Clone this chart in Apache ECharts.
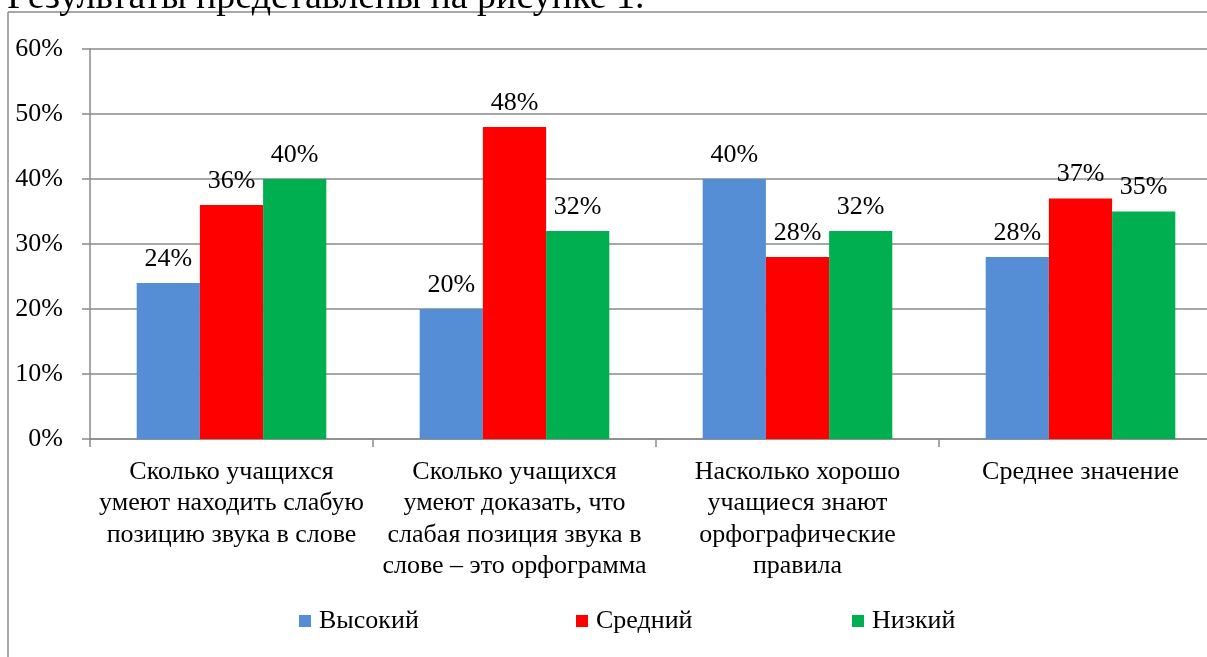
<!DOCTYPE html>
<html>
<head>
<meta charset="utf-8">
<script src="https://cdn.jsdelivr.net/npm/echarts@6/dist/echarts.min.js"></script>
<style>
html,body{margin:0;padding:0;background:#fff;overflow:hidden;}
#chart{width:1240px;height:657px;}
</style>
</head>
<body>
<div id="chart"></div>
<script>
const categories = [
  "Сколько учащихся\nумеют находить слабую\nпозицию звука в слове",
  "Сколько учащихся\nумеют доказать, что\nслабая позиция звука в\nслове – это орфограмма",
  "Насколько хорошо\nучащиеся знают\nорфографические\nправила",
  "Среднее значение"
];
const seriesNames = ["Высокий", "Средний", "Низкий"];
const high = [24, 20, 40, 28];
const mid = [36, 48, 28, 37];
const low = [40, 32, 32, 35];
const yTicks = { min: 0, max: 60, interval: 10 };
const colors = ["#558ED5", "#FF0000", "#00B050"];
const font = "'Liberation Serif', 'Times New Roman', serif";

const chart = echarts.init(document.getElementById('chart'));
const mkSeries = (name, data, color) => ({
  name: name,
  type: 'bar',
  data: data,
  barGap: '0%',
  barCategoryGap: '33%',
  itemStyle: { color: color },
  label: {
    show: true,
    position: 'top',
    distance: 11,
    formatter: '{c}%',
    fontFamily: font,
    fontSize: 26,
    color: '#000'
  }
});
const legendLefts = [299, 576, 852];
const mkLegend = (name, left) => ({
  data: [name],
  left: left,
  top: 608,
  padding: 0,
  icon: 'rect',
  itemWidth: 12,
  itemHeight: 12,
  textStyle: { fontFamily: font, fontSize: 26, color: '#000', padding: [0, 0, 0, 3] }
});
chart.setOption({
  animation: false,
  textStyle: { fontFamily: font },
  graphic: [
    { type: 'line', shape: { x1: 8, y1: 12, x2: 1240, y2: 12 }, style: { stroke: '#8a8a8a', lineWidth: 1.5 } },
    { type: 'line', shape: { x1: 8, y1: 12, x2: 8, y2: 660 }, style: { stroke: '#8a8a8a', lineWidth: 1.5 } },
    { type: 'text', x: 7, y: -2, style: { text: 'Результаты представлены на рисунке 1.', font: "38px 'Liberation Serif'", fill: '#000', verticalAlign: 'middle', align: 'left' } }
  ],
  legend: seriesNames.map((n, i) => mkLegend(n, legendLefts[i])),
  grid: { left: 90, right: 18, top: 49, bottom: 218, containLabel: false },
  xAxis: {
    type: 'category',
    data: categories,
    axisLine: { lineStyle: { color: '#8a8a8a', width: 1.5 } },
    axisTick: { show: true, length: 8, lineStyle: { color: '#8a8a8a', width: 1.5 } },
    axisLabel: { fontFamily: font, fontSize: 26, color: '#000', lineHeight: 31.5, margin: 17, interval: 0 }
  },
  yAxis: {
    type: 'value',
    min: yTicks.min,
    max: yTicks.max,
    interval: yTicks.interval,
    axisLine: { show: true, lineStyle: { color: '#8a8a8a', width: 1.5 } },
    axisTick: { show: true, length: 8, lineStyle: { color: '#8a8a8a', width: 1.5 } },
    splitLine: { lineStyle: { color: '#8a8a8a', width: 1.5 } },
    axisLabel: { formatter: '{value}%', fontFamily: font, fontSize: 26, color: '#000', margin: 27 }
  },
  series: [
    mkSeries(seriesNames[0], high, colors[0]),
    mkSeries(seriesNames[1], mid, colors[1]),
    mkSeries(seriesNames[2], low, colors[2])
  ]
});
</script>
</body>
</html>
